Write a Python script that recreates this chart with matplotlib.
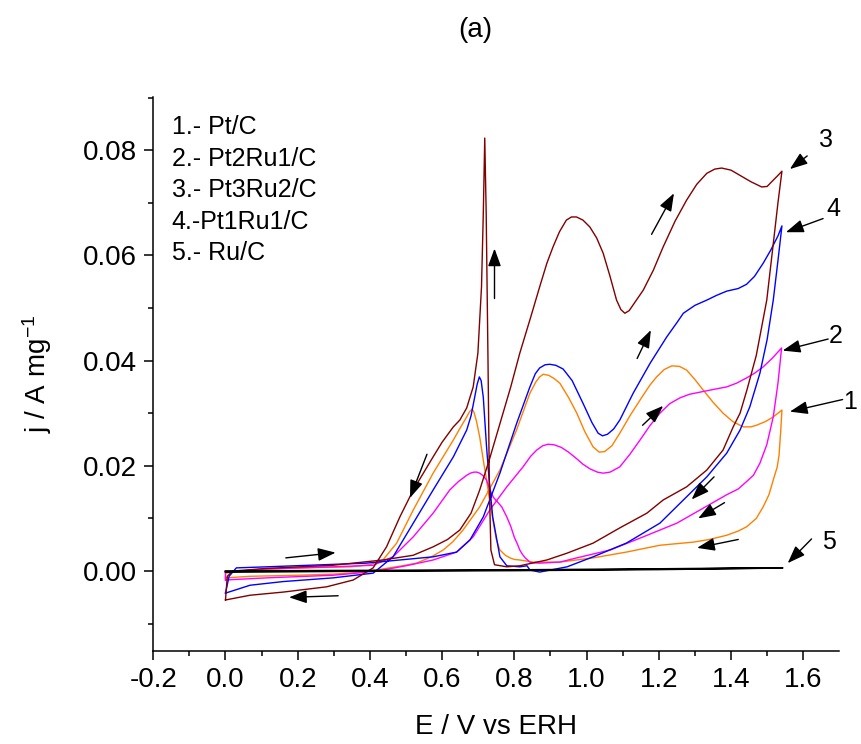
import matplotlib
matplotlib.use('Agg')
import matplotlib.pyplot as plt
from matplotlib.ticker import MultipleLocator, FormatStrFormatter

plt.rcParams['font.family'] = ['Liberation Sans', 'DejaVu Sans']
plt.rcParams['mathtext.default'] = 'regular'
plt.rcParams['axes.unicode_minus'] = False

# cyclic voltammograms: potential E (V vs ERH) and current density j (A/mg)
# *_fwd = anodic sweep 0 -> 1.54 V, *_rev = cathodic sweep back to 0 V

# 1.- Pt/C
pt_E_fwd = [0.0, 0.068, 0.200, 0.298, 0.380, 0.436, 0.490, 0.529, 0.570, 0.603,
            0.630, 0.658, 0.704, 0.760, 0.806, 0.843, 0.860, 0.870, 0.880, 0.895,
            0.910, 0.926, 0.950, 0.973, 0.995, 1.018, 1.035, 1.050, 1.070, 1.092,
            1.120, 1.148, 1.175, 1.194, 1.215, 1.236, 1.257, 1.277, 1.300, 1.323,
            1.350, 1.378, 1.405, 1.434, 1.455, 1.470, 1.495, 1.517, 1.541]
pt_j_fwd = [-0.0013, -0.0010, -0.0008, -0.0006, -0.0002, 0.0004, 0.0010, 0.0015, 0.0027, 0.0040,
            0.0056, 0.0078, 0.0122, 0.0192, 0.0268, 0.0338, 0.0360, 0.0369, 0.0374, 0.0372,
            0.0366, 0.0357, 0.0330, 0.0300, 0.0265, 0.0236, 0.0226, 0.0227, 0.0238, 0.0262,
            0.0295, 0.0325, 0.0353, 0.0369, 0.0383, 0.0390, 0.0389, 0.0382, 0.0364, 0.0344,
            0.0321, 0.0300, 0.0284, 0.0274, 0.0274, 0.0277, 0.0284, 0.0293, 0.0306]
pt_E_rev = [1.538, 1.533, 1.528, 1.517, 1.505, 1.489, 1.470, 1.443, 1.420, 1.388,
            1.340, 1.296, 1.203, 1.110, 1.018, 0.926, 0.852, 0.815, 0.800, 0.788,
            0.775, 0.760, 0.750, 0.742, 0.733, 0.723, 0.713, 0.704, 0.695, 0.688,
            0.683, 0.676, 0.668, 0.650, 0.631, 0.575, 0.520, 0.474, 0.436, 0.400,
            0.345, 0.206, 0.068, 0.0, 0.0]
pt_j_rev = [0.0270, 0.0220, 0.0198, 0.0173, 0.0145, 0.0122, 0.0100, 0.0084, 0.0076, 0.0068,
            0.0060, 0.0055, 0.0049, 0.0036, 0.0025, 0.0017, 0.0017, 0.0021, 0.0022, 0.0025,
            0.0030, 0.0040, 0.0060, 0.0091, 0.0130, 0.0173, 0.0215, 0.0255, 0.0285, 0.0302,
            0.0308, 0.0303, 0.0293, 0.0272, 0.0249, 0.0186, 0.0116, 0.0053, 0.0021, 0.0012,
            0.0008, 0.0006, 0.0002, -0.0004, -0.0013]

# 2.- Pt2Ru1/C
pt2ru1_E_fwd = [0.0, 0.114, 0.298, 0.380, 0.436, 0.500, 0.575, 0.640, 0.686, 0.732,
                0.779, 0.824, 0.845, 0.862, 0.878, 0.893, 0.910, 0.930, 0.950, 0.970,
                0.990, 1.010, 1.030, 1.046, 1.065, 1.092, 1.120, 1.148, 1.175, 1.203,
                1.230, 1.258, 1.285, 1.314, 1.350, 1.388, 1.415, 1.443, 1.465, 1.489,
                1.515, 1.540]
pt2ru1_j_fwd = [-0.0017, -0.0013, -0.0008, -0.0003, 0.0002, 0.0010, 0.0021, 0.0036, 0.0065, 0.0116,
                0.0160, 0.0198, 0.0218, 0.0230, 0.0238, 0.0241, 0.0240, 0.0235, 0.0226, 0.0215,
                0.0203, 0.0194, 0.0188, 0.0186, 0.0188, 0.0198, 0.0222, 0.0249, 0.0276, 0.0300,
                0.0318, 0.0329, 0.0336, 0.0340, 0.0345, 0.0350, 0.0357, 0.0367, 0.0376, 0.0388,
                0.0405, 0.0424]
pt2ru1_E_rev = [1.535, 1.530, 1.517, 1.499, 1.480, 1.462, 1.443, 1.420, 1.388, 1.314,
                1.250, 1.157, 1.065, 0.973, 0.926, 0.870, 0.845, 0.830, 0.822, 0.815,
                0.808, 0.800, 0.790, 0.779, 0.765, 0.755, 0.742, 0.732, 0.723, 0.712,
                0.704, 0.696, 0.688, 0.678, 0.668, 0.645, 0.621, 0.575, 0.520, 0.464,
                0.409, 0.298, 0.114, 0.0, 0.0]
pt2ru1_j_rev = [0.0390, 0.0357, 0.0293, 0.0240, 0.0205, 0.0182, 0.0170, 0.0156, 0.0145, 0.0116,
                0.0091, 0.0065, 0.0040, 0.0025, 0.0017, 0.0015, 0.0016, 0.0025, 0.0032, 0.0040,
                0.0052, 0.0064, 0.0085, 0.0103, 0.0122, 0.0130, 0.0140, 0.0155, 0.0173, 0.0182,
                0.0186, 0.0188, 0.0188, 0.0186, 0.0182, 0.0170, 0.0154, 0.0110, 0.0065, 0.0027,
                0.0011, 0.0008, 0.0004, -0.0002, -0.0017]

# 3.- Pt3Ru2/C
pt3ru2_E_fwd = [0.0, 0.005, 0.020, 0.114, 0.298, 0.436, 0.520, 0.575, 0.615, 0.649,
                0.680, 0.704, 0.730, 0.760, 0.790, 0.815, 0.845, 0.870, 0.890, 0.907,
                0.925, 0.944, 0.958, 0.972, 0.990, 1.009, 1.028, 1.046, 1.065, 1.083,
                1.095, 1.106, 1.118, 1.130, 1.157, 1.185, 1.212, 1.245, 1.277, 1.305,
                1.333, 1.355, 1.374, 1.400, 1.425, 1.455, 1.485, 1.500, 1.517, 1.530,
                1.541]
pt3ru2_j_fwd = [-0.0055, -0.0010, 0.0000, 0.0005, 0.0011, 0.0021, 0.0030, 0.0046, 0.0060, 0.0078,
                0.0110, 0.0154, 0.0210, 0.0280, 0.0350, 0.0414, 0.0482, 0.0540, 0.0585, 0.0616,
                0.0645, 0.0667, 0.0673, 0.0673, 0.0667, 0.0654, 0.0633, 0.0604, 0.0560, 0.0515,
                0.0497, 0.0490, 0.0495, 0.0507, 0.0534, 0.0572, 0.0616, 0.0665, 0.0705, 0.0735,
                0.0756, 0.0764, 0.0766, 0.0762, 0.0752, 0.0740, 0.0730, 0.0731, 0.0743, 0.0752,
                0.0760]
pt3ru2_E_rev = [1.530, 1.520, 1.499, 1.470, 1.444, 1.425, 1.406, 1.378, 1.333, 1.277,
                1.212, 1.167, 1.092, 1.018, 0.946, 0.890, 0.815, 0.779, 0.745, 0.735,
                0.731, 0.727, 0.722, 0.718, 0.714, 0.709, 0.699, 0.686, 0.668, 0.649,
                0.631, 0.600, 0.575, 0.520, 0.483, 0.446, 0.409, 0.354, 0.280, 0.160,
                0.068, 0.0]
pt3ru2_j_rev = [0.0700, 0.0640, 0.0515, 0.0410, 0.0344, 0.0300, 0.0274, 0.0230, 0.0192, 0.0160,
                0.0135, 0.0110, 0.0082, 0.0053, 0.0034, 0.0021, 0.0010, 0.0008, 0.0012, 0.0040,
                0.0150, 0.0400, 0.0680, 0.0823, 0.0680, 0.0540, 0.0414, 0.0350, 0.0310, 0.0287,
                0.0274, 0.0245, 0.0217, 0.0154, 0.0103, 0.0046, 0.0006, -0.0017, -0.0030, -0.0040,
                -0.0046, -0.0055]

# 4.- Pt1Ru1/C
pt1ru1_E_fwd = [0.0, 0.010, 0.030, 0.114, 0.390, 0.575, 0.640, 0.677, 0.714, 0.760,
                0.806, 0.843, 0.858, 0.870, 0.885, 0.898, 0.915, 0.935, 0.960, 0.990,
                1.015, 1.032, 1.044, 1.058, 1.075, 1.092, 1.129, 1.176, 1.222, 1.250,
                1.268, 1.300, 1.333, 1.360, 1.388, 1.420, 1.443, 1.465, 1.489, 1.510,
                1.530, 1.541]
pt1ru1_j_fwd = [-0.0042, -0.0010, 0.0006, 0.0008, 0.0015, 0.0027, 0.0036, 0.0059, 0.0103, 0.0186,
                0.0280, 0.0350, 0.0375, 0.0386, 0.0392, 0.0393, 0.0391, 0.0384, 0.0362, 0.0319,
                0.0282, 0.0262, 0.0257, 0.0260, 0.0270, 0.0287, 0.0338, 0.0395, 0.0445, 0.0472,
                0.0490, 0.0505, 0.0515, 0.0524, 0.0532, 0.0537, 0.0545, 0.0560, 0.0585, 0.0610,
                0.0637, 0.0656]
pt1ru1_E_rev = [1.530, 1.517, 1.500, 1.480, 1.452, 1.425, 1.388, 1.333, 1.268, 1.203,
                1.110, 1.018, 0.946, 0.870, 0.843, 0.835, 0.815, 0.779, 0.760, 0.740,
                0.730, 0.723, 0.714, 0.708, 0.703, 0.697, 0.690, 0.680, 0.668, 0.631,
                0.575, 0.520, 0.464, 0.409, 0.298, 0.160, 0.068, 0.0]
pt1ru1_j_rev = [0.0590, 0.0515, 0.0440, 0.0376, 0.0312, 0.0268, 0.0224, 0.0179, 0.0135, 0.0091,
                0.0053, 0.0027, 0.0008, -0.0002, 0.0002, 0.0010, 0.0008, 0.0010, 0.0027, 0.0103,
                0.0175, 0.0236, 0.0330, 0.0362, 0.0369, 0.0355, 0.0330, 0.0295, 0.0268, 0.0217,
                0.0154, 0.0091, 0.0027, -0.0004, -0.0013, -0.0020, -0.0027, -0.0042]

# 5.- Ru/C
ru_E_fwd = [0.0, 0.4, 0.8, 1.2, 1.543]
ru_j_fwd = [0.0, 0.0001, 0.0002, 0.0004, 0.0006]
ru_E_rev = [1.2, 0.8, 0.4, 0.0]
ru_j_rev = [0.0003, 0.0001, 0.0, -0.0002]

legend_lines = ['1.- Pt/C', '2.- Pt2Ru1/C', '3.- Pt3Ru2/C', '4.-Pt1Ru1/C', '5.- Ru/C']

fig = plt.figure(figsize=(8.62, 7.44), dpi=100)
ax = fig.add_axes([0.1778, 0.125, 0.7955, 0.7446])

ax.plot(pt_E_fwd + pt_E_rev, pt_j_fwd + pt_j_rev, color='#FF8000', lw=1.0)
ax.plot(pt2ru1_E_fwd + pt2ru1_E_rev, pt2ru1_j_fwd + pt2ru1_j_rev, color='#FF00FF', lw=1.0)
ax.plot(pt1ru1_E_fwd + pt1ru1_E_rev, pt1ru1_j_fwd + pt1ru1_j_rev, color='#0000FF', lw=1.0)
ax.plot(pt3ru2_E_fwd + pt3ru2_E_rev, pt3ru2_j_fwd + pt3ru2_j_rev, color='#800000', lw=1.0)
ax.plot(ru_E_fwd + ru_E_rev, ru_j_fwd + ru_j_rev, color='black', lw=1.3)

ax.set_xlim(-0.2, 1.699)
ax.set_ylim(-0.0152, 0.0901)

ax.spines['top'].set_visible(False)
ax.spines['right'].set_visible(False)
for s in ['left', 'bottom']:
    ax.spines[s].set_linewidth(1.1)

ax.xaxis.set_major_locator(MultipleLocator(0.2))
ax.xaxis.set_minor_locator(MultipleLocator(0.1))
ax.yaxis.set_major_locator(MultipleLocator(0.02))
ax.yaxis.set_minor_locator(MultipleLocator(0.01))
ax.xaxis.set_major_formatter(FormatStrFormatter('%.1f'))
ax.yaxis.set_major_formatter(FormatStrFormatter('%.2f'))
ax.tick_params(which='major', direction='out', length=6.5, width=1.1, labelsize=20, pad=5)
ax.tick_params(which='minor', direction='out', length=3.5, width=1.1)

ax.set_xlabel('E / V vs ERH', fontsize=20)
ax.xaxis.set_label_coords(0.5, -0.113)
ax.set_ylabel('j / A mg$^{-1}$', fontsize=20)
ax.yaxis.set_label_coords(-0.145, 0.5)

fig.text(475 / 862, 1 - 30 / 744, '(a)', fontsize=20, ha='center', va='center')

for k, txt in enumerate(legend_lines):
    ax.text(0.027, 0.946 - k * 0.057, txt, transform=ax.transAxes,
            fontsize=18, ha='left', va='center')

# sweep direction arrows
head = '-|>,head_length=0.6,head_width=0.22'
sweeps = [((0.167, 0.0025), (0.305, 0.0035)),
          ((0.312, -0.0047), (0.176, -0.0050)),
          ((0.558, 0.0222), (0.511, 0.0139)),
          ((0.745, 0.0518), (0.745, 0.0613)),
          ((1.180, 0.0640), (1.242, 0.0718)),
          ((1.140, 0.0404), (1.178, 0.0458)),
          ((1.155, 0.0277), (1.212, 0.0314)),
          ((1.353, 0.0179), (1.291, 0.0136)),
          ((1.382, 0.0130), (1.309, 0.0100)),
          ((1.420, 0.0060), (1.306, 0.0044))]
for start, end in sweeps:
    ax.annotate('', xy=end, xytext=start,
                arrowprops=dict(arrowstyle=head, mutation_scale=18, color='black',
                                lw=1.0, shrinkA=0, shrinkB=0))

# curve numbers with pointers
tags = [('3', (1.662, 0.0820), (1.611, 0.0789), (1.563, 0.0764)),
        ('4', (1.683, 0.0689), (1.655, 0.0670), (1.552, 0.0644)),
        ('2', (1.690, 0.0447), (1.669, 0.0441), (1.543, 0.0419)),
        ('1', (1.729, 0.0322), (1.709, 0.0326), (1.563, 0.0303)),
        ('5', (1.672, 0.0056), (1.623, 0.0061), (1.557, 0.0015))]
for txt, pos, start, end in tags:
    ax.text(pos[0], pos[1], txt, fontsize=18, ha='center', va='center', clip_on=False)
    ax.annotate('', xy=end, xytext=start, annotation_clip=False,
                arrowprops=dict(arrowstyle=head, mutation_scale=18, color='black',
                                lw=1.0, shrinkA=0, shrinkB=0))

plt.savefig('out.png', dpi=100)
